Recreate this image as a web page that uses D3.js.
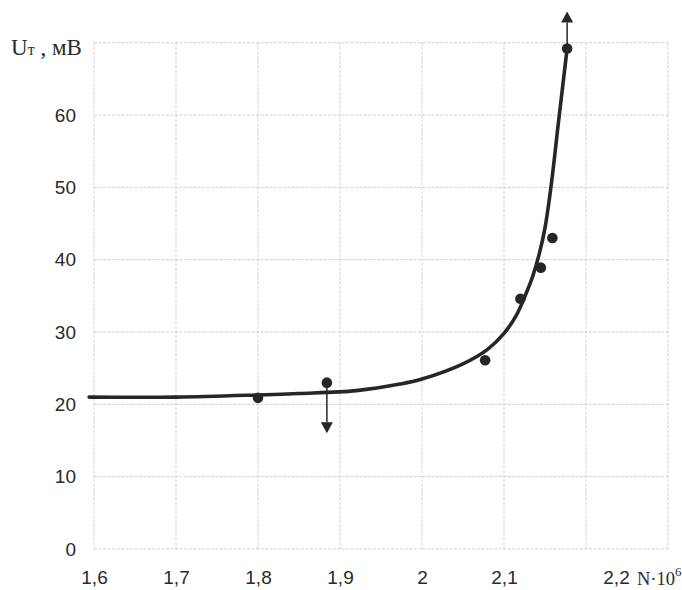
<!DOCTYPE html>
<html>
<head>
<meta charset="utf-8">
<script src="https://cdn.jsdelivr.net/npm/d3@7/dist/d3.min.js"></script>
<style>
  body { margin: 0; background: #fff; }
  svg { display: block; }
</style>
</head>
<body>
<div id="chart"></div>
<script>
// fitted curve
var curveX = [1.594, 1.7, 1.8, 1.85, 1.92, 1.973, 2.0, 2.05, 2.08, 2.1, 2.115, 2.125, 2.135, 2.143, 2.15, 2.158, 2.166, 2.177];
var curveY = [21.0, 21.0, 21.3, 21.5, 21.9, 22.8, 23.5, 25.6, 27.6, 29.8, 32.3, 34.8, 37.7, 40.8, 44.4, 50.7, 58.6, 69.2];

// measured points
var pointX = [1.8, 1.884, 2.077, 2.12, 2.145, 2.159, 2.177];
var pointY = [20.9, 23.0, 26.1, 34.6, 38.9, 43.0, 69.2];

// arrows: index of the point and where the arrow tip ends
var arrowFrom = [1, 6];
var arrowTo = [16.0, 74.3];

var xTicks = [1.6, 1.7, 1.8, 1.9, 2.0, 2.1, 2.2];
var xGrid = [1.6, 1.7, 1.8, 1.9, 2.0, 2.1, 2.2, 2.3];
var yTicks = [0, 10, 20, 30, 40, 50, 60];
var yGrid = [0, 10, 20, 30, 40, 50, 60, 70];

var width = 682, height = 590;
var margin = {top: 42.7, right: 14, bottom: 41, left: 94};
var w = width - margin.left - margin.right;
var h = height - margin.top - margin.bottom;

var svg = d3.select("#chart").append("svg")
    .attr("width", width)
    .attr("height", height);

var g = svg.append("g")
    .attr("transform", "translate(" + margin.left + "," + margin.top + ")");

var x = d3.scaleLinear().domain([1.6, 2.3]).range([0, w]);
var y = d3.scaleLinear().domain([0, 70]).range([h, 0]);

var fmt = function(d) { return String(+d.toFixed(1)).replace(".", ","); };

// grid
g.selectAll(".vgrid").data(xGrid).enter().append("line")
    .attr("class", "vgrid")
    .attr("x1", function(d) { return x(d); })
    .attr("x2", function(d) { return x(d); })
    .attr("y1", 0).attr("y2", h)
    .attr("stroke", "#cacaca")
    .attr("stroke-width", 0.9)
    .attr("stroke-dasharray", "3,1.5");

g.selectAll(".hgrid").data(yGrid).enter().append("line")
    .attr("class", "hgrid")
    .attr("x1", 0).attr("x2", w)
    .attr("y1", function(d) { return y(d); })
    .attr("y2", function(d) { return y(d); })
    .attr("stroke", "#cacaca")
    .attr("stroke-width", 0.9)
    .attr("stroke-dasharray", "3,1.5");

// axes (labels only)
var xAxis = g.append("g")
    .attr("transform", "translate(0," + h + ")")
    .call(d3.axisBottom(x).tickValues(xTicks).tickFormat(fmt).tickSize(0).tickPadding(22));
xAxis.select(".domain").remove();
xAxis.selectAll("text")
    .attr("font-family", "'Liberation Sans', Arial, sans-serif")
    .attr("font-size", 19)
    .attr("fill", "#2a2a2a");
// the last label sits to the right of its grid line
xAxis.selectAll(".tick").filter(function(d) { return d === 2.2; })
    .select("text").attr("dx", 30);

var yAxis = g.append("g")
    .call(d3.axisLeft(y).tickValues(yTicks).tickFormat(fmt).tickSize(0).tickPadding(18));
yAxis.select(".domain").remove();
yAxis.selectAll("text")
    .attr("font-family", "'Liberation Sans', Arial, sans-serif")
    .attr("font-size", 19)
    .attr("fill", "#2a2a2a");

// axis titles
var yt = svg.append("text")
    .attr("x", 11).attr("y", 55)
    .attr("font-family", "'Liberation Serif', 'Times New Roman', serif")
    .attr("font-size", 23)
    .attr("fill", "#2a2a2a");
yt.append("tspan").text("U");
yt.append("tspan").attr("font-size", 16).text("т");
yt.append("tspan").text(" , мВ");

var xt = svg.append("text")
    .attr("x", 637).attr("y", 585)
    .attr("font-family", "'Liberation Serif', 'Times New Roman', serif")
    .attr("font-size", 18.5)
    .attr("fill", "#2a2a2a");
xt.append("tspan").text("N·10");
xt.append("tspan").attr("font-size", 13).attr("dy", -9).text("6");

// curve
var line = d3.line()
    .x(function(d) { return x(d[0]); })
    .y(function(d) { return y(d[1]); })
    .curve(d3.curveCatmullRom.alpha(0.5));

g.append("path")
    .datum(d3.zip(curveX, curveY))
    .attr("d", line)
    .attr("fill", "none")
    .attr("stroke", "#262629")
    .attr("stroke-width", 3.6)
    .attr("stroke-linecap", "round");

// arrows
arrowFrom.forEach(function(pi, i) {
    var px = x(pointX[pi]), py = y(pointY[pi]);
    var ty = y(arrowTo[i]);
    var dir = ty > py ? 1 : -1;
    var headLen = 11, headW = 6;
    g.append("line")
        .attr("x1", px).attr("y1", py)
        .attr("x2", px).attr("y2", ty - dir * headLen)
        .attr("stroke", "#262629")
        .attr("stroke-width", 1.5);
    g.append("path")
        .attr("d", "M" + px + "," + ty +
            "L" + (px - headW) + "," + (ty - dir * headLen) +
            "L" + (px + headW) + "," + (ty - dir * headLen) + "Z")
        .attr("fill", "#262629");
});

// points
g.selectAll(".pt").data(d3.zip(pointX, pointY)).enter().append("circle")
    .attr("class", "pt")
    .attr("cx", function(d) { return x(d[0]); })
    .attr("cy", function(d) { return y(d[1]); })
    .attr("r", 5.3)
    .attr("fill", "#262629");
</script>
</body>
</html>
